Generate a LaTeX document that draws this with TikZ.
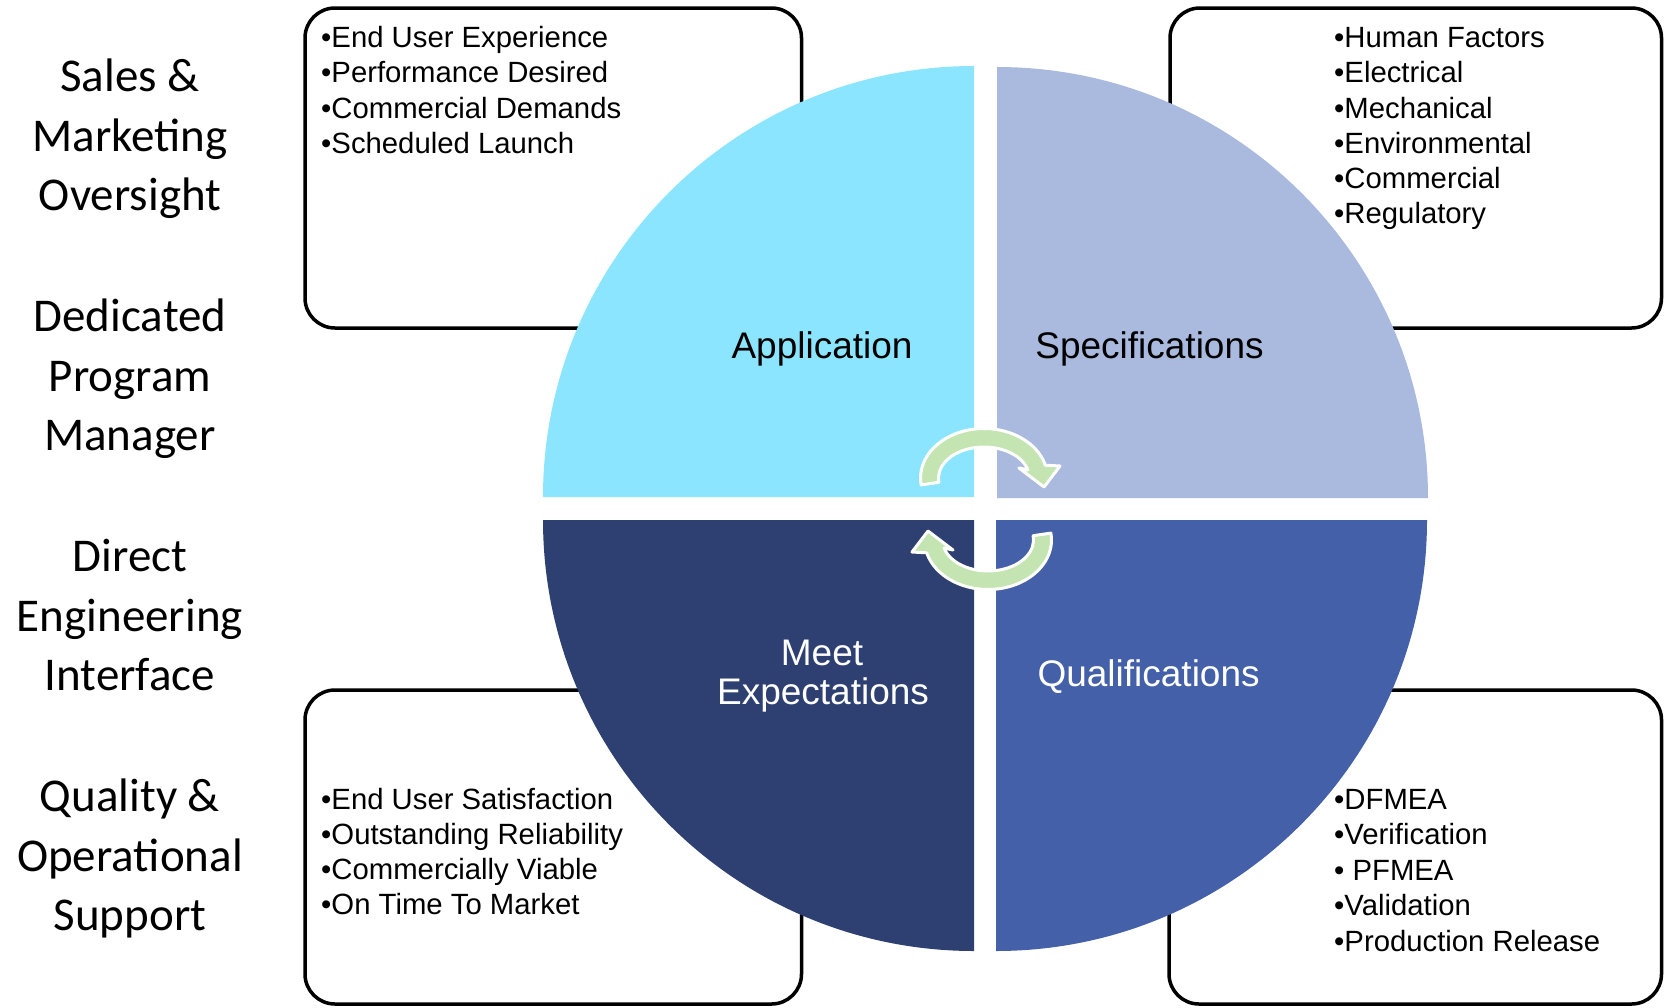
\documentclass[tikz,border=0pt]{standalone}
\usepackage{fontspec}
\usepackage{tikz}
\usepackage{xcolor}
\setmainfont{Liberation Sans}
\newfontfamily\sidefont{Carlito}

\definecolor{appcol}{RGB}{139,229,254}
\definecolor{speccol}{RGB}{170,185,222}
\definecolor{meetcol}{RGB}{46,64,113}
\definecolor{qualcol}{RGB}{67,96,168}
\definecolor{cycgreen}{RGB}{196,228,178}

\begin{document}
\begin{tikzpicture}[x=1pt, y=-1pt,
    panel/.style={draw=black, line width=3.5pt, rounded corners=30pt},
    item/.style={anchor=base west, inner sep=0pt, font=\fontsize{29.3}{35}\selectfont},
    side/.style={anchor=base, inner sep=0pt, font=\sidefont\fontsize{47}{59}\selectfont},
    quad/.style={anchor=base, inner sep=0pt, font=\fontsize{37}{41}\selectfont},
    cyc/.style={fill=cycgreen, draw=white, line width=3pt, line join=round}]
\useasboundingbox (0,0) rectangle (1664,1007);

% boxes behind the wheel
\draw[panel] (305,8) rectangle (801.5,328);
\draw[panel] (1170,8) rectangle (1661.5,328);
\draw[panel] (305,690) rectangle (801.5,1004);
\draw[panel] (1169,690) rectangle (1661.5,1004);

\foreach \t [count=\i from 0] in {End User Experience, Performance Desired, Commercial Demands, Scheduled Launch}
    \node[item] (need\i) at (321, 47.7+35.2*\i) {•\t};

\foreach \t [count=\i from 0] in {Human Factors, Electrical, Mechanical, Environmental, Commercial, Regulatory}
    \node[item] (spec\i) at (1334, 47.7+35.2*\i) {•\t};

\foreach \t [count=\i from 0] in {End User Satisfaction, Outstanding Reliability, Commercially Viable, On Time To Market}
    \node[item] (goal\i) at (321, 809+35.3*\i) {•\t};

\foreach \t [count=\i from 0] in {DFMEA, Verification, {\ PFMEA}, Validation, Production Release}
    \node[item] (test\i) at (1334, 809+35.6*\i) {•\t};

% the wheel
\fill[appcol] (974,497) -- (543,497) arc[start angle=180, end angle=270, radius=431] -- cycle;
\fill[speccol] (997,498) -- (997,67) arc[start angle=270, end angle=360, radius=431] -- cycle;
\fill[meetcol] (974,520) -- (974,951) arc[start angle=90, end angle=180, radius=431] -- cycle;
\fill[qualcol] (996,520) -- (1427,520) arc[start angle=0, end angle=90, radius=431] -- cycle;

\foreach \r in {0,180}
    \path[cyc, rotate around={\r:(986,509)}] (921.1,484.9)
        arc[start angle=172, end angle=345, x radius=63.5, y radius=49.5]
        -- (1060,466) -- (1044,487) -- (1019,468) -- (1027.95,469.98)
        arc[start angle=345, end angle=172, x radius=45.5, y radius=31] -- cycle;

\node[quad] (application) at (822,358.6) {Application};
\node[quad] (specifications) at (1149.5,358.6) {Specifications};
\node[quad, text=white] (meet) at (822,665.7) {Meet};
\node[quad, text=white] (expectations) at (823,704.2) {Expectations};
\node[quad, text=white] (qualifications) at (1148.6,686) {Qualifications};

% roles down the left side
\foreach \a/\b/\c [count=\g from 0] in {Sales \&/Marketing/Oversight, Dedicated/Program/Manager, Direct/Engineering/Interface, Quality \&/Operational/Support} {
    \node[side] (role\g-1) at (130, 91.7+240*\g) {\a};
    \node[side] (role\g-2) at (130, 151.2+240*\g) {\b};
    \node[side] (role\g-3) at (130, 210.5+240*\g) {\c};
}
\end{tikzpicture}
\end{document}
